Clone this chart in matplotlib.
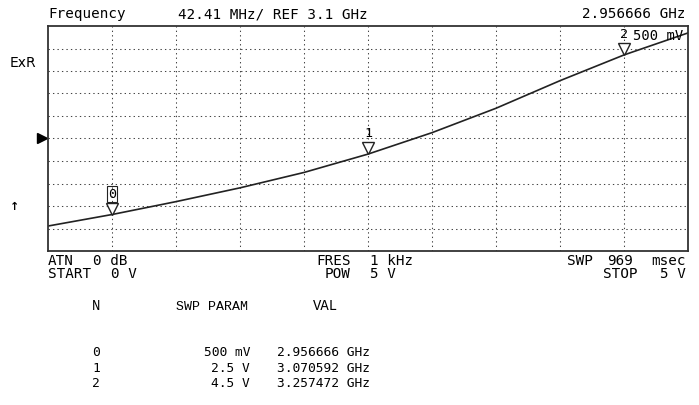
import matplotlib
matplotlib.use("Agg")
import matplotlib.pyplot as plt
import matplotlib.transforms as mtransforms

# sweep trace (tuning voltage -> frequency)
sweep_v  = [0.0, 0.5, 1.0, 1.5, 2.0, 2.5, 3.0, 3.5, 4.0, 4.5, 5.0]
freq_ghz = [2.935, 2.9567, 2.981, 3.007, 3.036, 3.0706, 3.111, 3.157, 3.209, 3.2575, 3.299]

# markers
marker_n     = [0, 1, 2]
marker_v     = [0.5, 2.5, 4.5]
marker_param = ["500 mV", "2.5 V", "4.5 V"]
marker_freq  = [2.956666, 3.070592, 3.257472]

REF_GHZ   = 3.1
SCALE_MHZ = 42.41
N_DIV     = 10

W, H = 699, 405
MONO = "DejaVu Sans Mono"


def ftext(x, y, s, **kw):
    """Text placed in figure pixel coords (y from top, baseline)."""
    kw.setdefault("family", MONO)
    kw.setdefault("fontsize", 10.3)
    kw.setdefault("va", "baseline")
    fig.text(x / W, 1 - y / H, s, **kw)


fig = plt.figure(figsize=(W / 100, H / 100), dpi=100)
fig.patch.set_facecolor("white")

left, top, right, bottom = 48, 26, 688, 251
ax = fig.add_axes([left / W, 1 - bottom / H, (right - left) / W, (bottom - top) / H])

half = SCALE_MHZ / 1000 * N_DIV / 2
ax.set_xlim(0, 5)
ax.set_ylim(REF_GHZ - half, REF_GHZ + half)
ax.set_xticks([])
ax.set_yticks([])
for sp in ax.spines.values():
    sp.set_color("#333333")
    sp.set_linewidth(1.3)

# dotted graticule
dots = dict(color="#444444", linewidth=0.75, linestyle=(0, (1.3, 3.0)))
for i in range(1, N_DIV):
    ax.axvline(5 * i / N_DIV, **dots)
    ax.axhline(REF_GHZ - half + 2 * half * i / N_DIV, **dots)

ax.plot(sweep_v, freq_ghz, color="#222222", linewidth=1.2)

# marker triangles with the tip on the trace
ms = 8.6
tri_off = mtransforms.offset_copy(ax.transData, fig=fig, x=0, y=ms / 2, units="points")
lab_off = mtransforms.offset_copy(ax.transData, fig=fig, x=0, y=ms + 1.5, units="points")
for n, v, f in zip(marker_n, marker_v, marker_freq):
    ax.plot([v], [f], marker="v", markersize=ms, markerfacecolor="white",
            markeredgecolor="#222222", markeredgewidth=1.0, transform=tri_off)
    box = None
    if n == 0:
        box = dict(boxstyle="square,pad=0.1", facecolor="none", edgecolor="#222222", linewidth=0.8)
    ax.text(v, f, str(n), transform=lab_off, ha="center", va="bottom",
            family=MONO, fontsize=9.6, bbox=box, clip_on=False)
ftext(633, 40, marker_param[0], fontsize=10)

# reference level pointer
ref_tr = mtransforms.blended_transform_factory(ax.transAxes, ax.transData)
ax.plot([-0.009], [REF_GHZ], marker=">", markersize=7, color="black",
        transform=ref_tr, clip_on=False)

# header
ftext(48, 18, "Frequency")
ftext(178, 18, f"{SCALE_MHZ} MHz/ REF {REF_GHZ} GHz")
ftext(686, 18, f"{marker_freq[0]:.6f} GHz", ha="right")

ftext(10, 67, "ExR", family="DejaVu Sans", fontsize=10)
ftext(15, 210, "\u2191", family="DejaVu Sans", fontsize=8, ha="center", weight="bold")

# footer settings
ftext(48, 265, "ATN")
ftext(93, 265, "0 dB")
ftext(48, 277.5, "START")
ftext(111, 277.5, "0 V")
ftext(316, 265, "FRES")
ftext(370, 265, "1 kHz")
ftext(325, 277.5, "POW")
ftext(370, 277.5, "5 V")
ftext(567, 265, "SWP")
ftext(607, 265, "969")
ftext(686, 265, "msec", ha="right")
ftext(603, 277.5, "STOP")
ftext(686, 277.5, "5 V", ha="right")

# marker table
ftext(92, 310, "N", family="Liberation Mono", fontsize=10)
ftext(176, 310, "SWP PARAM", family="Liberation Mono", fontsize=9.5)
ftext(313, 310, "VAL", family="Liberation Mono", fontsize=10)
for i, (n, p, f) in enumerate(zip(marker_n, marker_param, marker_freq)):
    y = 356 + i * 15.5
    ftext(92, y, str(n), fontsize=9.3)
    ftext(250, y, p, ha="right", fontsize=9.3)
    ftext(277, y, f"{f:.6f} GHz", fontsize=9.3)

fig.savefig("out.png", dpi=100)
